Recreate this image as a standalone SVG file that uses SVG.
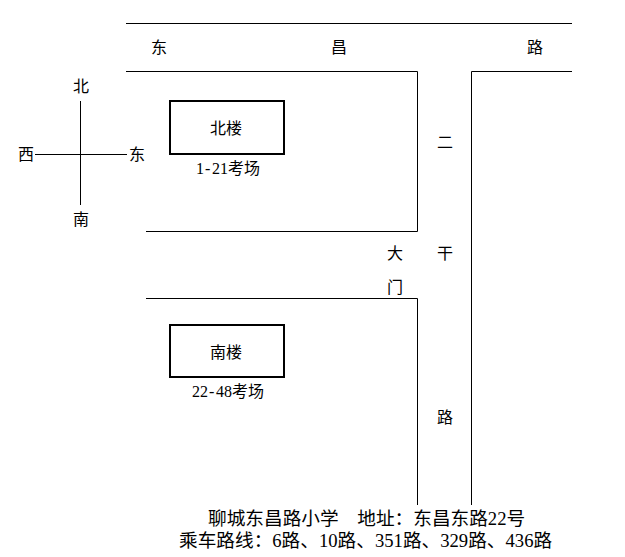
<svg xmlns="http://www.w3.org/2000/svg" width="625" height="557" viewBox="0 0 625 557">
<style>
text{font-family:"Liberation Serif","Noto Sans CJK SC",serif;font-size:16px;fill:#000}
text.f{font-size:18.67px}
.r{fill:none;stroke:#000;stroke-width:1}
.b{fill:#fff;stroke:#000;stroke-width:2}
</style>
<rect width="625" height="557" fill="#fff"/>
<g id="connectors">
<path class="r" d="M126 23.5H572M126 71.5H417.5V231.5H146M146 298.5H417.5V505M471.5 505V71.5H572"/>
<path class="r" d="M80.5 101V205M35 154.5H127"/>
</g>
<g id="compass">
<text x="73" y="92">北</text>
<text x="73" y="225">南</text>
<text x="18" y="160">西</text>
<text x="129" y="160">东</text>
</g>
<g id="north-building">
<rect class="b" x="170" y="101" width="114" height="53"/>
<text x="210" y="134">北楼</text>
<text x="196 205 212 220 228 244" y="174">1-21考场</text>
</g>
<g id="south-building">
<rect class="b" x="170" y="325" width="114" height="52"/>
<text x="210" y="358">南楼</text>
<text x="192 200 209 216 224 232 248" y="397">22-48考场</text>
</g>
<g id="road-dongchang">
<text x="151" y="53">东</text>
<text x="331" y="53">昌</text>
<text x="527" y="53">路</text>
</g>
<g id="road-erganlu">
<text x="437" y="148">二</text>
<text x="437" y="259">干</text>
<text x="437" y="423">路</text>
</g>
<g id="gate">
<text x="387" y="259">大</text>
<text x="387" y="293">门</text>
</g>
<g id="footer">
<text class="f" x="208" y="525">聊城东昌路小学　地址：东昌东路22号</text>
<text class="f" x="179" y="547">乘车路线：6路、10路、351路、329路、436路</text>
</g>
</svg>
